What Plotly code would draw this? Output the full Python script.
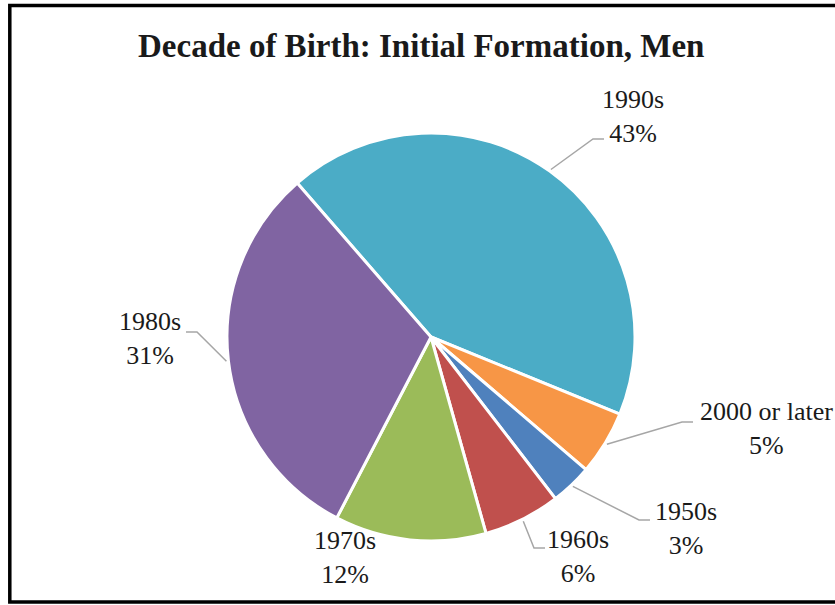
import math
import plotly.graph_objects as go

# ---- data ----
categories = ["1990s", "2000 or later", "1950s", "1960s", "1970s", "1980s"]
values = [42.6, 5.1, 3.3, 6.1, 12.0, 31.0]
colors = ["#4BACC6", "#F79646", "#4F81BD", "#C0504D", "#9BBB59", "#8064A2"]
title_text = "Decade of Birth: Initial Formation, Men"

# ---- layout / style ----
W, H = 835, 605
CX, CY, R = 431, 337, 204          # pie centre and radius in pixels
ROTATION = -41                     # start angle of first slice (deg, clockwise from 12 o'clock)
LEADER_R = 206                     # radius where leader lines start
# label centres (pixels) and leader-line end points (pixels, None = no leader)
label_pos = {
    "1990s": (633, 117),
    "2000 or later": (766, 428),
    "1950s": (686, 528),
    "1960s": (578, 556),
    "1970s": (345, 557),
    "1980s": (150, 338),
}
leader_end = {
    "1990s": (604, 139),
    "2000 or later": (693, 422),
    "1950s": (650, 520),
    "1960s": (545, 548),
    "1970s": None,
    "1980s": (186, 332),
}
LABEL_FONT = dict(family="Liberation Serif", size=26, color="#1a1a1a")
LEADER_COLOR = "#A6A6A6"


def px(x):
    return x / W


def py(y):
    return 1 - y / H


fig = go.Figure(
    go.Pie(
        labels=categories,
        values=values,
        marker=dict(colors=colors, line=dict(color="white", width=3)),
        sort=False,
        direction="clockwise",
        rotation=ROTATION,
        textinfo="none",
        hoverinfo="label+percent",
        showlegend=False,
        domain=dict(x=[px(CX - R), px(CX + R)], y=[py(CY + R), py(CY - R)]),
    )
)

total = sum(values)
annotations = []
shapes = []
start = ROTATION
for cat, v in zip(categories, values):
    span = 360 * v / total
    mid = math.radians(start + span / 2)
    start += span
    pct = round(100 * v / total)
    lx, ly = label_pos[cat]
    annotations.append(dict(
        x=px(lx), y=py(ly), xref="paper", yref="paper",
        text=f"{cat}<br>{pct}%", showarrow=False,
        xanchor="center", yanchor="middle", align="center",
        font=LABEL_FONT,
    ))
    end = leader_end[cat]
    if end is not None:
        sx = CX + LEADER_R * math.sin(mid)
        sy = CY - LEADER_R * math.cos(mid)
        ex, ey = end
        elbow_x = ex - 11 if ex > CX else ex + 11
        path = f"M {px(sx)},{py(sy)} L {px(elbow_x)},{py(ey)} L {px(ex)},{py(ey)}"
        shapes.append(dict(type="path", path=path, xref="paper", yref="paper",
                           line=dict(color=LEADER_COLOR, width=1.5)))

annotations.append(dict(
    x=px(421), y=py(46), xref="paper", yref="paper",
    text=f"<b>{title_text}</b>", showarrow=False,
    xanchor="center", yanchor="middle",
    font=dict(family="Liberation Serif", size=33, color="#1a1a1a"),
))

# chart border
shapes.append(dict(type="rect", xref="paper", yref="paper",
                   x0=px(9.8), x1=px(850), y0=py(602), y1=py(5.5),
                   line=dict(color="black", width=3.5), fillcolor="rgba(0,0,0,0)"))

fig.update_layout(
    width=W, height=H,
    margin=dict(l=0, r=0, t=0, b=0),
    paper_bgcolor="white", plot_bgcolor="white",
    annotations=annotations,
    shapes=shapes,
)

fig.write_html(
    "out.html",
    config={"displayModeBar": False},
    post_script="document.body.style.margin='0';document.body.style.overflow='hidden';",
)
